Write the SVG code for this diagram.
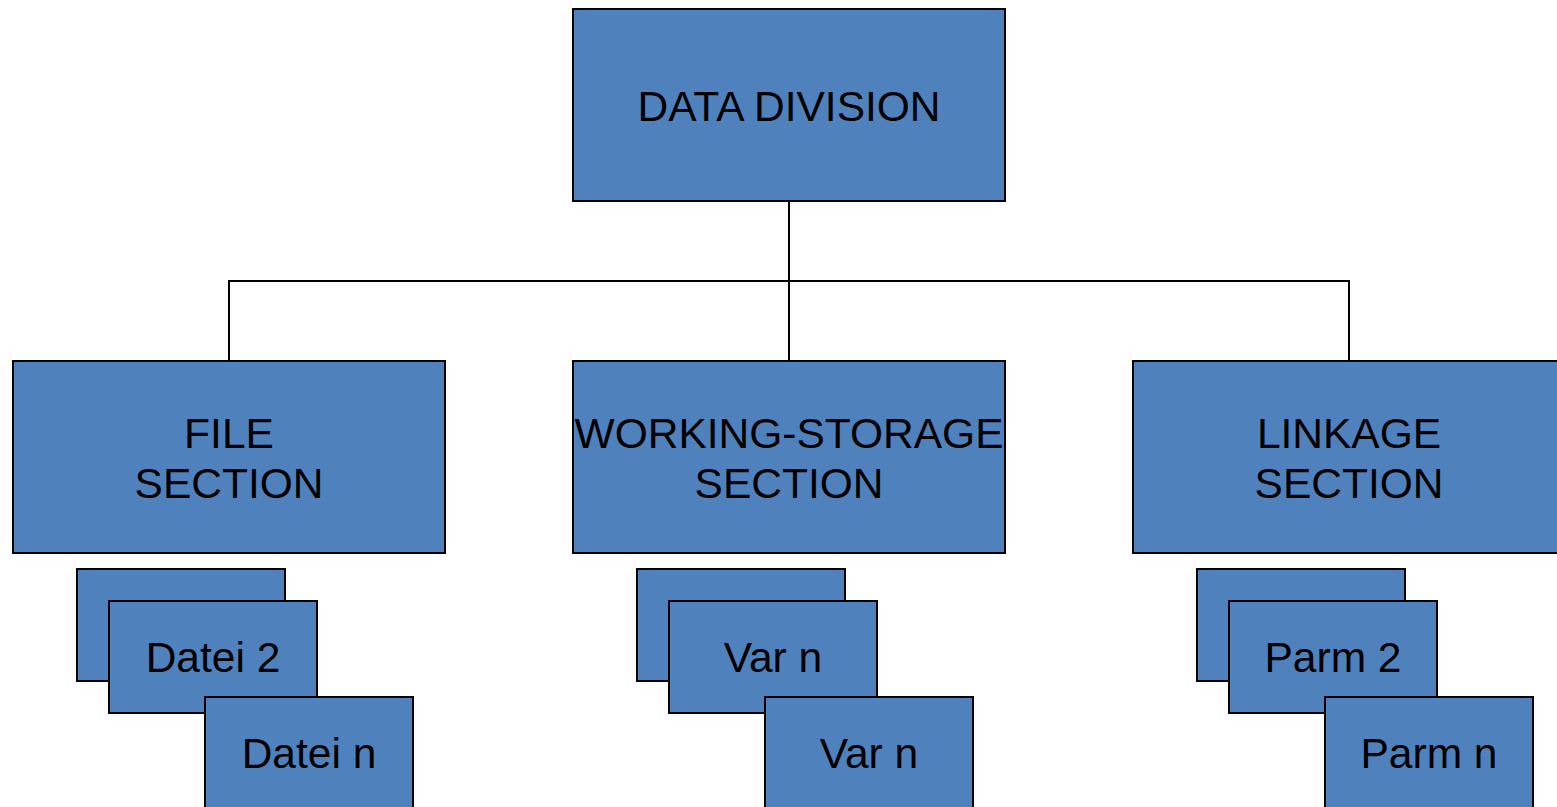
<svg xmlns="http://www.w3.org/2000/svg" width="1557" height="807" viewBox="0 0 1557 807">
  <style>
    .box { fill: #4F81BD; stroke: #000000; stroke-width: 2; }
    .lbl { font-family: "Liberation Sans", Arial, sans-serif; font-size: 42.5px; fill: #000000; text-anchor: middle; }
    .wire { fill: none; stroke: #000000; stroke-width: 2; }
  </style>
  <rect width="1557" height="807" fill="#ffffff"/>

  <!-- tree connectors -->
  <g id="connectors">
    <path class="wire" d="M789 201 V281 H229 V361"/>
    <path class="wire" d="M789 201 V361"/>
    <path class="wire" d="M789 281 H1349 V361"/>
  </g>

  <!-- root -->
  <g id="data-division">
    <rect class="box" x="573" y="9" width="432" height="192"/>
    <text class="lbl" x="789" y="121">DATA DIVISION</text>
  </g>

  <!-- sections -->
  <g id="file-section">
    <rect class="box" x="13" y="361" width="432" height="192"/>
    <text class="lbl" x="229" y="448">FILE</text>
    <text class="lbl" x="229" y="498">SECTION</text>
  </g>
  <g id="working-storage-section">
    <rect class="box" x="573" y="361" width="432" height="192"/>
    <text class="lbl" x="789" y="448">WORKING-STORAGE</text>
    <text class="lbl" x="789" y="498">SECTION</text>
  </g>
  <g id="linkage-section">
    <rect class="box" x="1133" y="361" width="432" height="192"/>
    <text class="lbl" x="1349" y="448">LINKAGE</text>
    <text class="lbl" x="1349" y="498">SECTION</text>
  </g>

  <!-- file entries -->
  <g id="datei-1">
    <rect class="box" x="77" y="569" width="208" height="112"/>
  </g>
  <g id="datei-2">
    <rect class="box" x="109" y="601" width="208" height="112"/>
    <text class="lbl" x="213" y="672">Datei 2</text>
  </g>
  <g id="datei-n">
    <rect class="box" x="205" y="697" width="208" height="112"/>
    <text class="lbl" x="309" y="768">Datei n</text>
  </g>

  <!-- working-storage entries -->
  <g id="var-1">
    <rect class="box" x="637" y="569" width="208" height="112"/>
  </g>
  <g id="var-2">
    <rect class="box" x="669" y="601" width="208" height="112"/>
    <text class="lbl" x="773" y="672">Var n</text>
  </g>
  <g id="var-n">
    <rect class="box" x="765" y="697" width="208" height="112"/>
    <text class="lbl" x="869" y="768">Var n</text>
  </g>

  <!-- linkage entries -->
  <g id="parm-1">
    <rect class="box" x="1197" y="569" width="208" height="112"/>
  </g>
  <g id="parm-2">
    <rect class="box" x="1229" y="601" width="208" height="112"/>
    <text class="lbl" x="1333" y="672">Parm 2</text>
  </g>
  <g id="parm-n">
    <rect class="box" x="1325" y="697" width="208" height="112"/>
    <text class="lbl" x="1429" y="768">Parm n</text>
  </g>
</svg>
